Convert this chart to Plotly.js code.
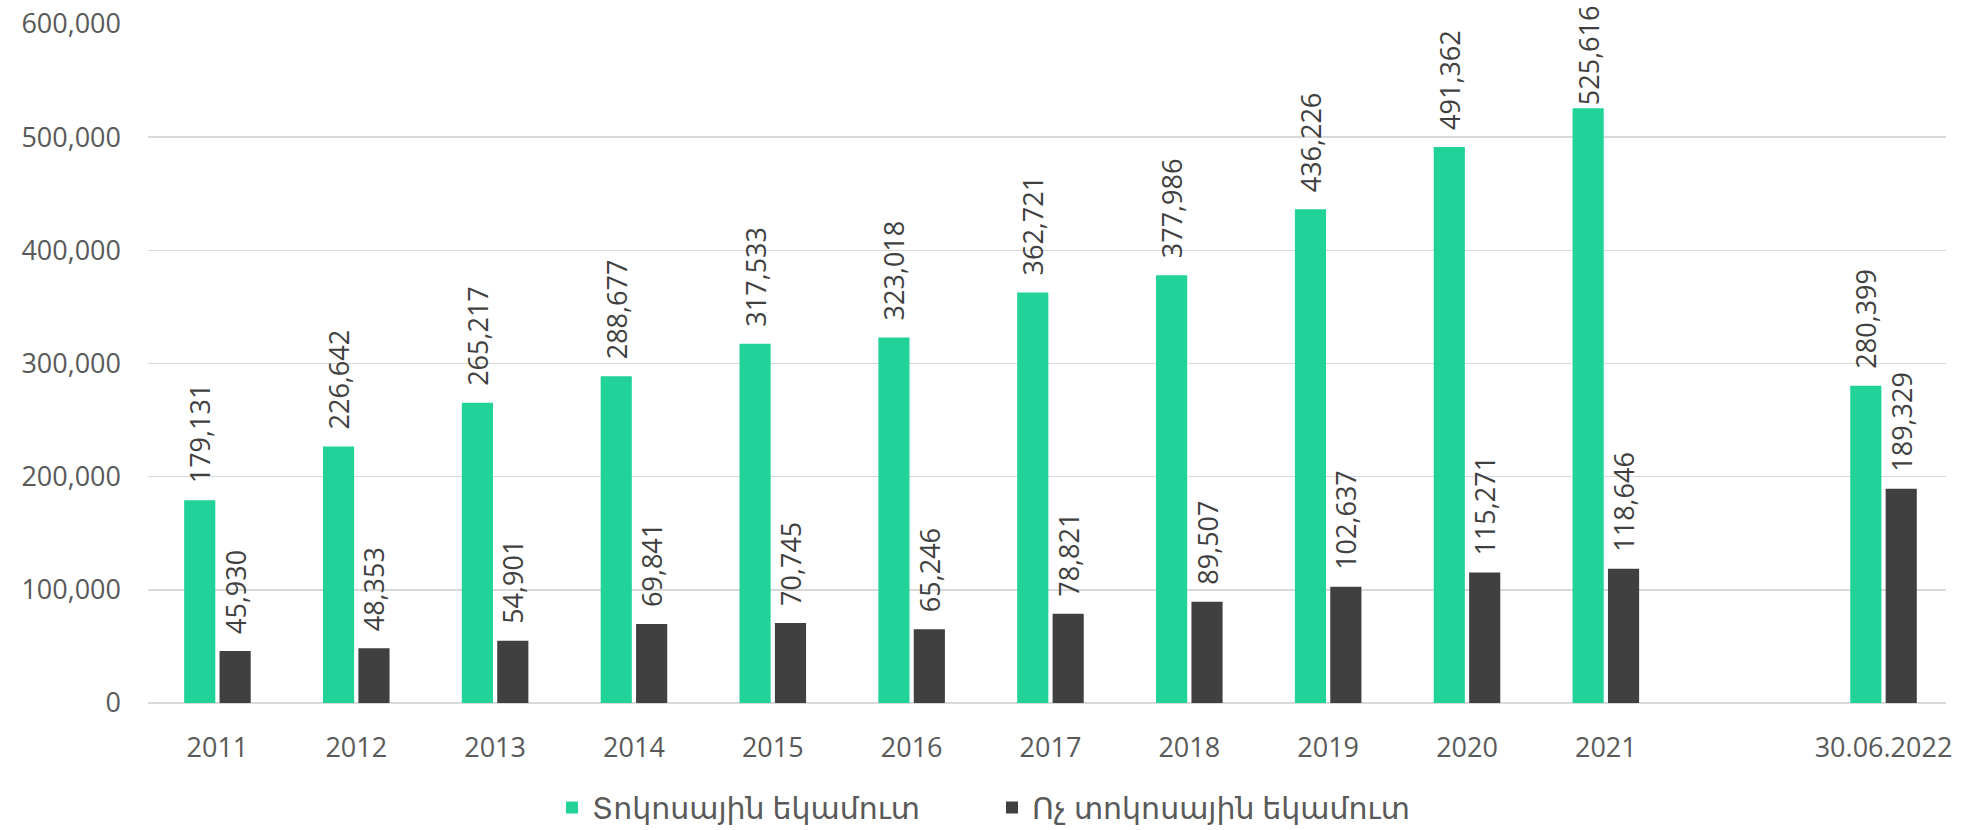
<!DOCTYPE html>
<html>
<head>
<meta charset="utf-8">
<script src="https://cdn.plot.ly/plotly-3.0.1.min.js"></script>
<style>html,body{margin:0;padding:0;background:#fff;}#chart{width:1984px;height:830px;}</style>
</head>
<body>
<div id="chart"></div>
<script>
const categories = ['2011','2012','2013','2014','2015','2016','2017','2018','2019','2020','2021',' ','30.06.2022'];
const interestIncome = [179131,226642,265217,288677,317533,323018,362721,377986,436226,491362,525616,null,280399];
const nonInterestIncome = [45930,48353,54901,69841,70745,65246,78821,89507,102637,115271,118646,null,189329];
const seriesNames = ['Տոկոսային եկամուտ','Ոչ տոկոսային եկամուտ'];
const colors = ['#21D399','#404040'];
const yMax = 600000;

// labels near the top are pulled closer to their bar so they stay inside the chart
const fmt = v => v === null ? '' : (v > 0.85 * yMax ? '' : '\u00a0\u00a0') + v.toLocaleString('en-US');
const FONT = '"Open Sans", "Noto Sans", "DejaVu Sans", sans-serif';

function mk(vals, i){
  return {
    type:'bar', x:categories, y:vals, name:seriesNames[i],
    marker:{color:colors[i], line:{width:0}},
    text: vals.map(fmt), textposition:'outside', textangle:-90,
    constraintext:'none', cliponaxis:false,
    textfont:{family:FONT, size:27, color:'#404040'},
    hoverinfo:'x+y'
  };
}

const data = [mk(interestIncome,0), mk(nonInterestIncome,1)];
const layout = {
  width:1984, height:830,
  margin:{l:148, r:38, t:24, b:127},
  paper_bgcolor:'#fff', plot_bgcolor:'#fff',
  font:{family:FONT, size:27, color:'#595959'},
  barmode:'group', bargap:0.49, bargroupgap:0.12,
  xaxis:{type:'category', categoryorder:'array', categoryarray:categories,
         range:[-0.5, 12.45],
         showgrid:false, zeroline:false, showline:false, ticks:'',
         ticklabelstandoff:26, tickfont:{size:27, color:'#595959'}},
  yaxis:{range:[0,yMax], tickvals:[0,100000,200000,300000,400000,500000,600000],
         tickformat:',d', showgrid:true, gridcolor:'#d9d9d9', gridwidth:1.5,
         zeroline:true, zerolinecolor:'#d9d9d9', zerolinewidth:1.5,
         showline:false, ticks:'', ticklabelstandoff:26,
         tickfont:{size:27, color:'#595959'}},
  showlegend:true,
  legend:{orientation:'h', xref:'container', yref:'container', x:0.5, xanchor:'center',
          y:0.027, yanchor:'middle', font:{size:30, color:'#595959'},
          itemwidth:30, entrywidth:395, traceorder:'normal'}
};
Plotly.newPlot('chart', data, layout, {displayModeBar:false, staticPlot:true});
</script>
</body>
</html>
